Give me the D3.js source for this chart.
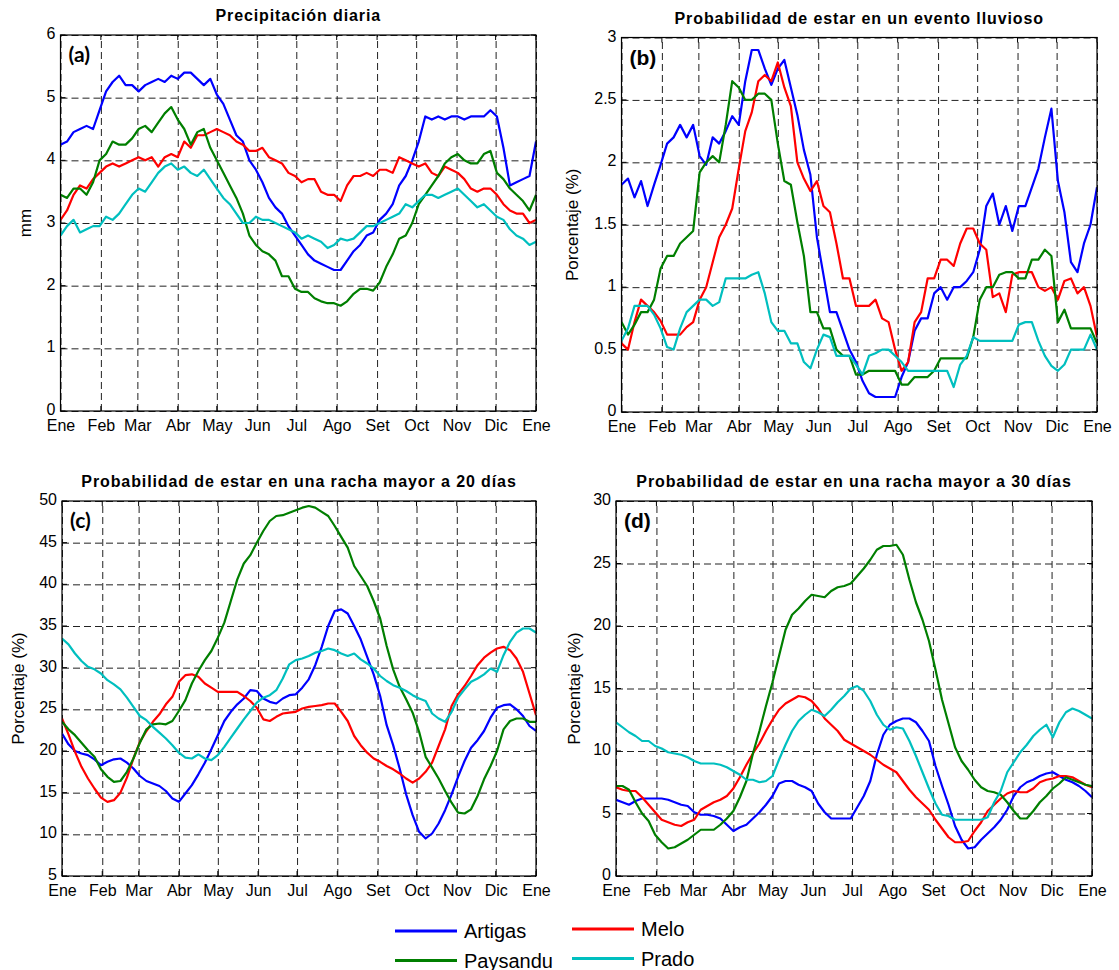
<!DOCTYPE html>
<html>
<head>
<meta charset="utf-8">
<script src="https://cdn.jsdelivr.net/npm/d3@7"></script>
<style>
   body { margin: 0; background: #fff; }
   text { font-family: "Liberation Sans", Arial, sans-serif; fill: #000; }
</style>
</head>
<body>
<svg id="chart" width="1119" height="970"></svg>
<script>
"use strict";

// day of year, every 5 days
const days = d3.range(0, 366, 5)
const month_days = [0, 31, 59, 90, 120, 151, 181, 212, 243, 273, 304, 334, 365]
const month_labels = ['Ene', 'Feb', 'Mar', 'Abr', 'May', 'Jun', 'Jul', 'Ago', 'Set', 'Oct', 'Nov', 'Dic', 'Ene']
const stations = ['Artigas', 'Paysandu', 'Melo', 'Prado']

// (a) Precipitacion diaria (mm)
const a_artigas = [4.25,4.3,4.45,4.5,4.55,4.5,4.8,5.1,5.25,5.35, 5.2,5.2,5.1,5.2,5.25,5.3,5.25,5.35,5.3,5.4,
   5.4,5.3,5.2,5.3,5.05,4.9,4.65,4.4,4.3,4.0, 3.85,3.65,3.4,3.25,3.15,2.95,2.8,2.65,2.5,2.4,
   2.35,2.3,2.25,2.25,2.4,2.55,2.65,2.8,2.85,3.05, 3.15,3.3,3.6,3.75,4.0,4.3,4.7,4.65,4.7,4.65,
   4.7,4.7,4.65,4.7,4.7,4.7,4.8,4.7,4.2,3.6, 3.65,3.7,3.75,4.3]
const a_paysandu = [3.45,3.4,3.55,3.55,3.45,3.65,4.0,4.1,4.3,4.25, 4.25,4.35,4.5,4.55,4.45,4.6,4.75,4.85,4.65,4.5,
   4.25,4.45,4.5,4.2,4.0,3.8,3.6,3.4,3.15,2.8, 2.65,2.55,2.5,2.4,2.15,2.15,1.95,1.9,1.9,1.8,
   1.75,1.72,1.72,1.68,1.75,1.87,1.95,1.95,1.92,2.05, 2.3,2.5,2.75,2.8,3.0,3.3,3.45,3.6,3.75,3.95,
   4.05,4.1,4.0,3.95,3.95,4.1,4.15,3.8,3.7,3.55, 3.45,3.35,3.2,3.45]
const a_melo = [3.05,3.2,3.45,3.6,3.55,3.7,3.8,3.9,3.95,3.9, 3.95,4.0,4.05,4.0,4.05,3.9,4.05,4.1,4.05,4.3,
   4.2,4.4,4.4,4.45,4.5,4.45,4.4,4.3,4.25,4.15, 4.15,4.2,4.05,4.0,3.95,3.8,3.75,3.65,3.7,3.7,
   3.5,3.45,3.45,3.35,3.6,3.75,3.75,3.8,3.75,3.85, 3.85,3.8,4.05,4.0,3.95,3.9,3.95,3.8,3.75,3.9,
   3.85,3.8,3.7,3.55,3.5,3.55,3.55,3.45,3.3,3.2, 3.15,3.15,3.0,3.05]
const a_prado = [2.8,2.95,3.05,2.85,2.9,2.95,2.95,3.1,3.05,3.15, 3.3,3.45,3.55,3.5,3.65,3.8,3.9,3.95,3.85,3.9,
   3.8,3.75,3.85,3.7,3.55,3.4,3.3,3.15,3.0,3.0, 3.1,3.05,3.05,3.0,2.95,2.9,2.85,2.75,2.8,2.75,
   2.7,2.6,2.65,2.75,2.72,2.75,2.85,2.95,2.95,3.0, 3.05,3.1,3.15,3.3,3.25,3.35,3.45,3.45,3.4,3.45,
   3.5,3.55,3.45,3.35,3.25,3.3,3.2,3.1,3.05,2.9, 2.8,2.75,2.65,2.7]

// (b) Probabilidad de estar en un evento lluvioso (%)
const b_artigas = [1.82,1.87,1.72,1.85,1.65,1.82,1.98,2.15,2.2,2.3, 2.2,2.3,2.05,1.98,2.2,2.15,2.25,2.37,2.3,2.65,
   2.9,2.9,2.75,2.62,2.75,2.82,2.6,2.38,2.1,1.9, 1.4,1.1,0.8,0.8,0.65,0.5,0.4,0.25,0.15,0.12,
   0.12,0.12,0.12,0.28,0.4,0.65,0.75,0.75,0.95,1.0, 0.9,1.0,1.0,1.05,1.12,1.3,1.65,1.75,1.5,1.65,
   1.45,1.65,1.65,1.8,1.95,2.2,2.43,1.85,1.6,1.2, 1.12,1.35,1.5,1.8]
const b_paysandu = [0.72,0.62,0.7,0.8,0.8,0.9,1.15,1.25,1.25,1.35, 1.4,1.45,1.92,2.0,2.05,2.0,2.3,2.65,2.6,2.5,
   2.5,2.55,2.55,2.5,2.15,1.85,1.82,1.52,1.25,0.8, 0.8,0.67,0.67,0.5,0.45,0.45,0.3,0.3,0.33,0.33,
   0.33,0.33,0.33,0.22,0.22,0.28,0.28,0.28,0.33,0.43, 0.43,0.43,0.43,0.43,0.6,0.9,1.0,1.0,1.1,1.12,
   1.12,1.07,1.07,1.22,1.22,1.3,1.25,0.72,0.82,0.67, 0.67,0.67,0.67,0.55]
const b_melo = [0.55,0.5,0.72,0.9,0.85,0.8,0.73,0.62,0.62,0.62, 0.68,0.72,0.9,1.0,1.2,1.4,1.5,1.63,1.95,2.25,
   2.4,2.65,2.7,2.65,2.8,2.6,2.45,2.0,1.87,1.77, 1.85,1.65,1.6,1.35,1.07,1.07,0.85,0.85,0.85,0.9,
   0.75,0.72,0.5,0.33,0.4,0.72,0.8,1.07,1.07,1.22, 1.22,1.17,1.35,1.47,1.47,1.35,1.3,0.92,0.95,0.8,
   1.1,1.12,1.12,1.12,1.0,0.97,1.0,0.9,1.05,1.07, 0.95,1.0,0.85,0.6]
const b_prado = [0.57,0.67,0.85,0.85,0.85,0.78,0.67,0.52,0.5,0.67, 0.8,0.85,0.9,0.9,0.85,0.88,1.07,1.07,1.07,1.07,
   1.1,1.12,0.95,0.72,0.65,0.65,0.55,0.55,0.4,0.35, 0.5,0.62,0.6,0.45,0.45,0.45,0.38,0.3,0.45,0.47,
   0.5,0.5,0.45,0.4,0.33,0.33,0.33,0.33,0.33,0.33, 0.33,0.2,0.38,0.45,0.6,0.57,0.57,0.57,0.57,0.57,
   0.57,0.7,0.72,0.72,0.57,0.45,0.37,0.33,0.38,0.5, 0.5,0.5,0.62,0.5]

// (c) Probabilidad de estar en una racha mayor a 20 dias (%)
const c_artigas = [22.1,20.8,20.0,19.7,19.5,19.0,18.3,18.7,19.0,19.1, 18.6,17.9,17.0,16.4,16.1,15.8,15.2,14.3,13.9,14.9,
   15.9,17.2,18.6,20.2,21.9,23.6,24.7,25.6,26.3,27.3, 27.2,26.3,25.9,25.7,26.3,26.7,26.8,27.6,28.6,30.3,
   32.5,35.0,36.8,37.0,36.5,35.0,33.4,31.3,29.2,26.6, 23.1,20.7,17.9,14.8,12.3,10.3,9.5,10.1,11.3,12.9,
   14.8,16.9,18.8,20.4,21.3,22.4,24.0,25.2,25.5,25.6, 25.0,24.2,23.0,22.4]
const c_paysandu = [23.5,22.6,21.9,21.0,20.1,19.3,17.8,16.9,16.3,16.4, 17.5,19.1,21.0,22.6,23.2,23.3,23.2,23.6,24.8,26.1,
   28.1,29.6,30.9,32.0,33.6,35.4,38.0,40.6,42.5,43.5, 45.0,46.4,47.6,48.2,48.3,48.6,48.9,49.2,49.4,49.2,
   48.7,48.2,47.0,45.7,44.4,42.2,41.0,39.8,38.0,35.9, 32.6,29.8,27.7,26.2,24.6,22.3,19.3,18.0,16.7,15.2,
   13.8,12.6,12.5,13.0,14.6,16.6,18.2,20.0,22.6,23.6, 23.9,23.9,23.5,23.5]
const c_melo = [23.9,22.0,19.9,18.1,16.7,15.5,14.4,13.9,14.1,15.0, 16.8,19.1,21.1,22.4,23.5,24.4,25.6,26.5,28.3,29.1,
   29.2,28.9,28.1,27.6,27.1,27.1,27.1,27.1,26.6,26.0, 25.2,23.8,23.6,24.1,24.5,24.6,24.7,25.1,25.3,25.4,
   25.5,25.7,25.7,24.7,23.6,21.8,20.7,19.8,19.1,18.7, 18.2,17.8,17.3,16.7,16.2,16.7,17.5,18.6,20.6,22.6,
   25.4,26.8,27.8,29.0,30.3,31.2,31.8,32.3,32.5,32.1, 31.1,29.5,26.9,24.3]
const c_prado = [33.5,32.8,31.7,30.8,30.1,29.8,29.3,28.5,28.0,27.4, 26.4,25.3,24.2,23.7,22.9,22.2,21.5,20.7,19.8,19.2,
   19.1,19.6,19.1,18.9,19.5,20.5,21.6,22.7,23.8,24.8, 25.8,26.4,26.7,27.3,28.7,30.4,30.9,31.1,31.4,31.8,
   32.0,32.3,32.1,31.7,31.4,31.7,31.0,30.5,29.9,29.0, 28.4,27.9,27.6,27.2,26.7,26.3,26.0,24.5,23.9,23.5,
   24.7,26.4,27.4,28.3,28.7,29.2,29.9,29.5,31.5,33.1, 34.2,34.7,34.7,34.2]

// (d) Probabilidad de estar en una racha mayor a 30 dias (%)
const d_artigas = [6.1,5.9,5.7,6.0,6.2,6.2,6.2,6.2,6.1,5.9, 5.7,5.6,5.1,4.9,4.9,4.8,4.6,4.1,3.6,3.9,
   4.1,4.6,5.1,5.7,6.4,7.4,7.6,7.6,7.3,7.1, 6.8,5.8,5.1,4.6,4.6,4.6,4.6,5.5,6.4,7.6,
   9.7,11.3,12.1,12.4,12.6,12.6,12.3,11.6,10.8,8.8, 7.2,5.7,4.0,2.9,2.2,2.3,2.9,3.4,3.9,4.5,
   5.3,6.4,7.1,7.5,7.7,8.0,8.2,8.3,8.0,7.7, 7.5,7.2,6.8,6.3]
const d_paysandu = [7.2,7.2,6.9,5.9,5.0,4.4,3.3,2.7,2.2,2.3, 2.6,2.9,3.3,3.7,3.7,3.7,4.1,4.6,5.2,6.3,
   7.6,9.8,11.6,13.6,15.5,17.6,19.7,20.9,21.4,22.0, 22.5,22.4,22.3,22.8,23.1,23.2,23.4,24.0,24.6,25.3,
   26.1,26.4,26.4,26.5,25.7,23.7,21.9,20.5,18.8,16.5, 14.1,12.2,10.3,9.2,8.5,7.7,7.1,6.8,6.7,6.5,
   5.9,5.2,4.6,4.6,5.2,5.9,6.4,7.0,7.4,7.9, 7.7,7.5,7.3,7.2]
const d_melo = [7.1,6.9,6.8,6.8,6.3,5.7,5.1,4.5,4.3,4.1, 4.0,4.3,4.5,5.3,5.6,5.9,6.1,6.4,7.0,7.9,
   8.9,9.8,10.6,11.6,12.5,13.3,13.8,14.1,14.4,14.3, 14.0,13.4,12.6,12.1,11.6,10.9,10.6,10.3,10.0,9.7,
   9.3,8.9,8.6,8.3,7.6,6.9,6.3,5.8,5.3,4.5, 3.8,3.1,2.7,2.7,2.8,3.6,4.3,5.2,5.7,6.2,
   6.6,6.8,6.7,6.7,7.0,7.5,7.7,7.8,8.0,8.0, 7.9,7.6,7.3,7.1]
const d_prado = [12.3,11.9,11.5,11.2,10.8,10.8,10.4,10.2,9.9,9.8, 9.7,9.5,9.2,9.0,9.0,9.0,8.9,8.7,8.4,8.1,
   7.7,7.7,7.5,7.6,8.0,9.3,10.5,11.6,12.4,12.9, 13.3,13.1,12.8,13.3,13.9,14.4,15.0,15.2,14.8,14.0,
   12.9,12.1,11.7,11.9,11.8,10.8,9.6,8.3,7.0,5.8, 4.9,4.8,4.5,4.5,4.5,4.5,4.5,4.7,5.9,6.8,
   8.3,9.1,9.9,10.5,11.2,11.7,12.1,11.1,12.3,13.1, 13.4,13.2,12.9,12.6]

const y_ticks_a = [0, 1, 2, 3, 4, 5, 6]
const y_ticks_b = [0, 0.5, 1, 1.5, 2, 2.5, 3]
const y_ticks_c = [5, 10, 15, 20, 25, 30, 35, 40, 45, 50]
const y_ticks_d = [0, 5, 10, 15, 20, 25, 30]

const color_key = d3.scaleOrdinal()
   .domain(stations)
   .range(['#0000ff', '#007f00', '#ff0000', '#00bfbf'])

const panels = [
   { key: 'a', title: 'Precipitación diaria', ylabel: 'mm', ticks: y_ticks_a,
     box: [60.5, 35, 536, 411], ylabel_x: 25, tag_font: 'Lato',
     series: [a_artigas, a_paysandu, a_melo, a_prado] },
   { key: 'b', title: 'Probabilidad de estar en un evento lluvioso', ylabel: 'Porcentaje (%)', ticks: y_ticks_b,
     box: [621.5, 37.5, 1097, 412], ylabel_x: 572, tag_font: 'Liberation Sans',
     series: [b_artigas, b_paysandu, b_melo, b_prado] },
   { key: 'c', title: 'Probabilidad de estar en una racha mayor a 20 días', ylabel: 'Porcentaje (%)', ticks: y_ticks_c,
     box: [62, 501, 536, 876], ylabel_x: 18, tag_font: 'Lato',
     series: [c_artigas, c_paysandu, c_melo, c_prado] },
   { key: 'd', title: 'Probabilidad de estar en una racha mayor a 30 días', ylabel: 'Porcentaje (%)', ticks: y_ticks_d,
     box: [616, 501, 1092, 876], ylabel_x: 574, tag_font: 'Liberation Sans',
     series: [d_artigas, d_paysandu, d_melo, d_prado] }
]

let svg = d3.select('#chart')
svg.append('rect').attr('width', 1119).attr('height', 970).attr('fill', '#fff')

// draw order in the plots
const draw_order = [0, 2, 1, 3]

panels.forEach(p => {
   const [x0, y0, x1, y1] = p.box
   const w = x1 - x0, h = y1 - y0

   const x = d3.scaleLinear().domain([0, 365]).range([0, w])
   const y = d3.scaleLinear().domain(d3.extent(p.ticks)).range([h, 0])

   let g = svg.append('g').attr('transform', `translate(${x0},${y0})`)

   g.append('clipPath').attr('id', 'clip-' + p.key)
      .append('rect').attr('width', w).attr('height', h)

   // grid + tick labels
   let ax_y = g.append('g')
      .call(d3.axisLeft(y).tickValues(p.ticks).tickSize(-w).tickPadding(5).tickFormat(d => d))
   let ax_x = g.append('g')
      .attr('transform', `translate(0,${h})`)
      .call(d3.axisBottom(x).tickValues(month_days).tickSize(-h).tickPadding(9)
         .tickFormat((d, i) => month_labels[i]))

   ;[ax_y, ax_x].forEach(ax => {
      ax.select('.domain').remove()
      ax.selectAll('.tick line')
         .attr('stroke', '#222')
         .attr('stroke-width', 1)
         .attr('stroke-dasharray', '7,4')
      ax.selectAll('.tick text')
         .style('font-size', '16px')
         .style('font-family', '"Liberation Sans", Arial, sans-serif')
         .attr('fill', '#000')
   })
   ax_y.selectAll('.tick text').attr('dy', '0.22em')

   // inward tick marks on all four sides
   let ticks = g.append('g').attr('stroke', '#000').attr('stroke-width', 1)
   ticks.selectAll('.tx').data(month_days).enter().append('path')
      .attr('d', d => `M${x(d)},0v5M${x(d)},${h}v-5`)
   ticks.selectAll('.ty').data(p.ticks).enter().append('path')
      .attr('d', d => `M0,${y(d)}h5M${w},${y(d)}h-5`)

   // series lines
   const line = d3.line()
      .x((d, i) => x(days[i]))
      .y(d => y(d))

   g.append('g')
      .attr('clip-path', `url(#clip-${p.key})`)
      .selectAll('path')
      .data(draw_order)
      .enter().append('path')
         .attr('fill', 'none')
         .attr('stroke', i => color_key(stations[i]))
         .attr('stroke-width', 2.2)
         .attr('stroke-linejoin', 'round')
         .attr('d', i => line(p.series[i]))

   // box
   g.append('rect')
      .attr('width', w).attr('height', h)
      .attr('fill', 'none').attr('stroke', '#000').attr('stroke-width', 1.2)

   // title
   g.append('text')
      .attr('x', w / 2).attr('y', -14)
      .attr('text-anchor', 'middle')
      .style('font-size', '16px').style('font-weight', 'bold').style('letter-spacing', '0.9px')
      .text(p.title)

   // y label
   svg.append('text')
      .attr('transform', `translate(${p.ylabel_x},${y0 + h / 2}) rotate(-90)`)
      .attr('text-anchor', 'middle').attr('dy', '0.35em')
      .style('font-size', '17px')
      .text(p.ylabel)

   // panel tag
   g.append('text')
      .attr('x', 8).attr('y', 27)
      .style('font-family', p.tag_font).style('font-size', '21px').style('font-weight', 'bold')
      .text(`(${p.key})`)
})

// legend, two columns
const legend_cols = [[0, 1], [2, 3]]
const legend_x = [395, 572]
const legend_y = [931, 929]
let legend = svg.append('g')
legend_cols.forEach((col, c) => {
   col.forEach((s, r) => {
      const ly = legend_y[c] + r * 29.5
      legend.append('line')
         .attr('x1', legend_x[c]).attr('x2', legend_x[c] + 62)
         .attr('y1', ly).attr('y2', ly)
         .attr('stroke', color_key(stations[s])).attr('stroke-width', 3)
      legend.append('text')
         .attr('x', legend_x[c] + 69).attr('y', ly + 7)
         .style('font-size', '20px')
         .text(stations[s])
   })
})
</script>
</body>
</html>
